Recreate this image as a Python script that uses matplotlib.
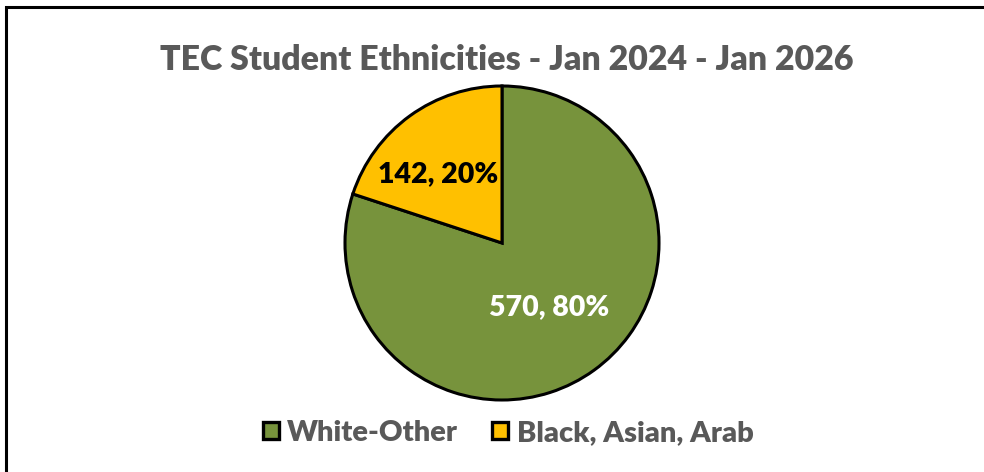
import matplotlib
matplotlib.use("Agg")
from matplotlib import pyplot as plt
from matplotlib.patches import Patch, Rectangle

labels = ["White-Other", "Black, Asian, Arab"]
counts = [570, 142]
colors = ["#77933C", "#FFC000"]
title = "TEC Student Ethnicities - Jan 2024 - Jan 2026"

plt.rcParams["font.family"] = ["Lato", "DejaVu Sans"]
plt.rcParams["font.weight"] = "heavy"
WT = "heavy"

fig = plt.figure(figsize=(9.84, 4.72), dpi=100)

# chart frame: only left and top edges fall inside the image
fig.patches.append(Rectangle((6 / 984, -0.1), 1.2, (472 - 7) / 472 + 0.1,
                             transform=fig.transFigure, fill=False,
                             edgecolor="black", linewidth=2.2))

ax = fig.add_axes([(502 - 157) / 984, (472 - 400) / 472, 314 / 984, 314 / 472])
total = sum(counts)
wedges, texts = ax.pie(counts, colors=colors, startangle=90, counterclock=False,
                       wedgeprops=dict(edgecolor="black", linewidth=2.2))
ax.set_xlim(-1.0, 1.0)
ax.set_ylim(-1.0, 1.0)
ax.set_aspect("equal")

pcts = [round(100 * c / total) for c in counts]
ax.text(0.30, -0.41, f"{counts[0]}, {pcts[0]}%", ha="center", va="center",
        fontsize=20.5, fontweight=WT, color="white")
ax.text(-0.41, 0.44, f"{counts[1]}, {pcts[1]}%", ha="center", va="center",
        fontsize=20.5, fontweight=WT, color="black")

fig.text(507 / 984, (472 - 60) / 472, title, ha="center", va="center",
         fontsize=24.4, fontweight=WT, color="#595959")

handles = [Patch(facecolor=c, edgecolor="black", linewidth=2.4) for c in colors]
leg = fig.legend(handles, labels, loc="center", bbox_to_anchor=(508 / 984, (472 - 433) / 472),
                 ncol=2, frameon=False, fontsize=21, handlelength=0.55, handleheight=0.55,
                 handletextpad=0.3, columnspacing=1.15)
for t in leg.get_texts():
    t.set_color("#595959")
    t.set_fontweight(WT)

fig.savefig("out.png", dpi=100)
